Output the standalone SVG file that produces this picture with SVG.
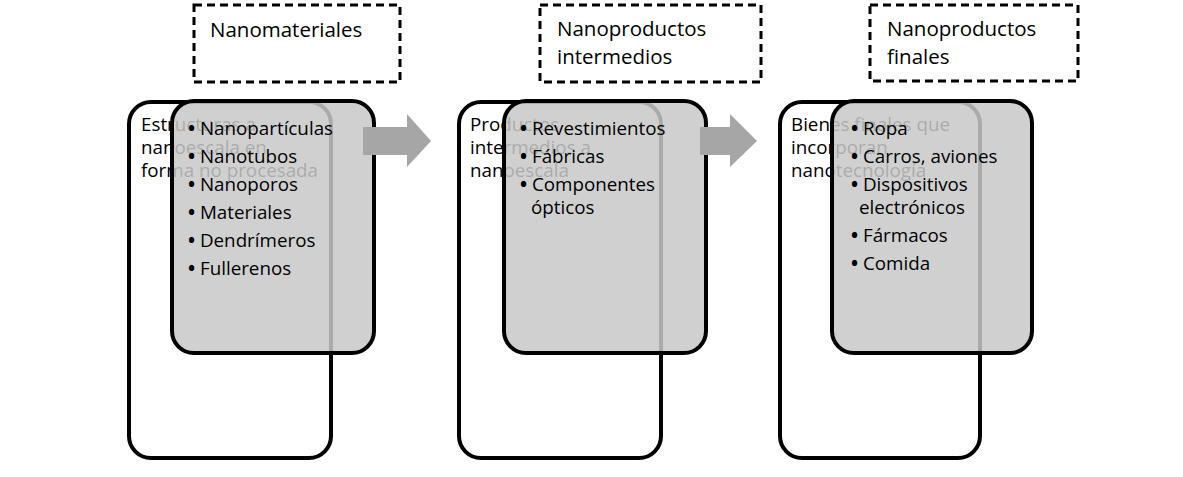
<svg xmlns="http://www.w3.org/2000/svg" width="1183" height="477" viewBox="0 0 1183 477">
<style>
.back{fill:#fff;stroke:#000;stroke-width:4}
.front{fill:#c8c8c8;fill-opacity:0.85;stroke:#000;stroke-width:4}
.dash{fill:#fff;stroke:#000;stroke-width:3;stroke-dasharray:8 5}
.t{font-family:"Open Sans","Liberation Sans",sans-serif;font-size:18.8px;fill:#000}
.h{font-family:"Open Sans","Liberation Sans",sans-serif;font-size:20.5px;fill:#000}
.b{font-weight:bold}
.arrow{fill:#a6a6a6}
</style>
<rect width="1183" height="477" fill="#fff"/>
<g id="label1">
<rect class="dash" x="194" y="5" width="206" height="77"/>
<text class="h" x="210" y="37">Nanomateriales</text>
</g>
<g id="label2">
<rect class="dash" x="540" y="5" width="221" height="77"/>
<text class="h" x="557" y="36">Nanoproductos</text>
<text class="h" x="557" y="64">intermedios</text>
</g>
<g id="label3">
<rect class="dash" x="870" y="5" width="208" height="76"/>
<text class="h" x="887" y="36">Nanoproductos</text>
<text class="h" x="887" y="64">finales</text>
</g>
<g id="stage1">
<rect class="back" x="129" y="102" width="202" height="356" rx="22"/>
<text class="t" x="141" y="131">Estructuras a</text>
<text class="t" x="141" y="154">nanoescala en</text>
<text class="t" x="141" y="177">forma no procesada</text>
<rect class="front" x="172" y="101" width="202" height="252" rx="22"/>
<text class="t" x="188" y="135"><tspan class="b">•</tspan> Nanopartículas</text>
<text class="t" x="188" y="163"><tspan class="b">•</tspan> Nanotubos</text>
<text class="t" x="188" y="191"><tspan class="b">•</tspan> Nanoporos</text>
<text class="t" x="188" y="219"><tspan class="b">•</tspan> Materiales</text>
<text class="t" x="188" y="247"><tspan class="b">•</tspan> Dendrímeros</text>
<text class="t" x="188" y="275"><tspan class="b">•</tspan> Fullerenos</text>
</g>
<g id="stage2">
<rect class="back" x="459" y="102" width="202" height="356" rx="22"/>
<text class="t" x="470" y="131">Productos</text>
<text class="t" x="470" y="154">intermedios a</text>
<text class="t" x="470" y="177">nanoescala</text>
<rect class="front" x="504" y="101" width="202" height="252" rx="22"/>
<text class="t" x="520" y="135"><tspan class="b">•</tspan> Revestimientos</text>
<text class="t" x="520" y="163"><tspan class="b">•</tspan> Fábricas</text>
<text class="t" x="520" y="191"><tspan class="b">•</tspan> Componentes</text>
<text class="t" x="531" y="214">ópticos</text>
</g>
<g id="stage3">
<rect class="back" x="780" y="102" width="200" height="356" rx="22"/>
<text class="t" x="791" y="131">Bienes finales que</text>
<text class="t" x="791" y="154">incorporan</text>
<text class="t" x="791" y="177">nanotecnología</text>
<rect class="front" x="832" y="101" width="200" height="252" rx="22"/>
<text class="t" x="851" y="135"><tspan class="b">•</tspan> Ropa</text>
<text class="t" x="851" y="163"><tspan class="b">•</tspan> Carros, aviones</text>
<text class="t" x="851" y="191"><tspan class="b">•</tspan> Dispositivos</text>
<text class="t" x="859" y="214">electrónicos</text>
<text class="t" x="851" y="242"><tspan class="b">•</tspan> Fármacos</text>
<text class="t" x="851" y="270"><tspan class="b">•</tspan> Comida</text>
</g>
<g id="connectors">
<polygon class="arrow" points="363,127 407,127 407,114 431,141 407,167 407,155 363,155"/>
<polygon class="arrow" points="700,127 730,127 730,114 757,141 730,167 730,155 700,155"/>
</g>
</svg>
